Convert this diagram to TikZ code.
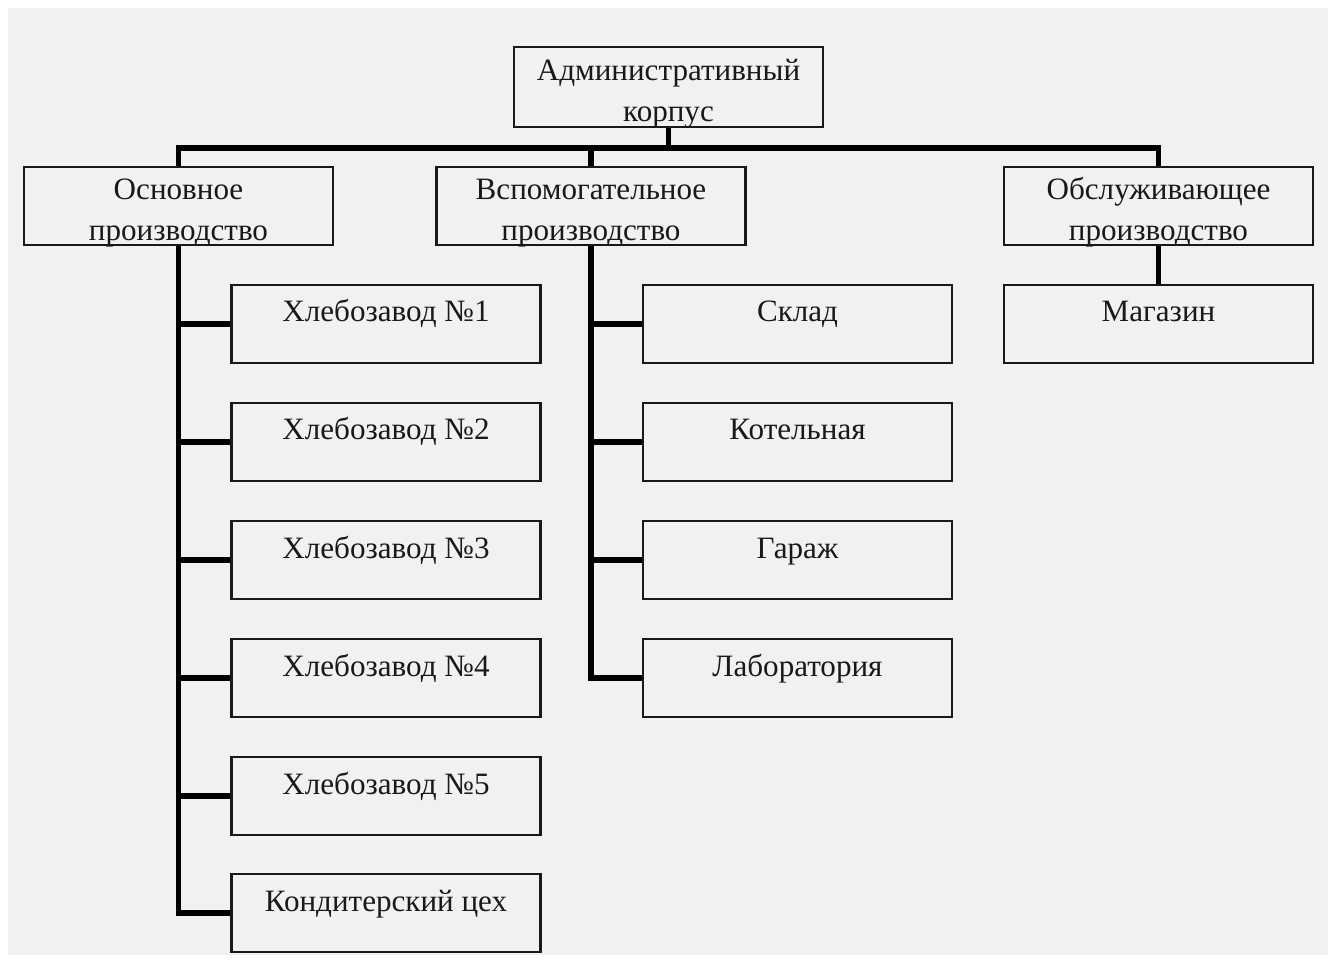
\documentclass[tikz,border=0pt]{standalone}
\usepackage{fontspec}
\setmainfont{Liberation Serif}
\definecolor{paper}{RGB}{241,241,244}
\definecolor{ink}{RGB}{25,25,25}
\begin{document}
\begin{tikzpicture}[x=0.02cm,y=-0.02cm,
		box/.style={draw=ink,line width=1.2pt,fill=paper,text=ink,inner sep=0pt,
			minimum width=6.18cm,minimum height=1.56cm,
			font=\fontsize{17.7}{23.5}\selectfont},
		onebox/.style={box,text height=0.74cm,text depth=0.82cm},
		twobox/.style={box,align=center,text height=1.48cm,text depth=0.08cm},
		conn/.style={draw=black,line width=2.9pt}]
			\fill[white] (0,0) rectangle (1335,962);
			\fill[paper] (8,8) rectangle (1328,955);
			\useasboundingbox (0,0) rectangle (1335,962);
			\node[twobox,minimum height=1.6cm,text height=1.5cm,text depth=0.1cm] (adm) at (668.5,87) {Административный\\корпус};
			\node[twobox] (osn) at (178.5,206) {Основное\\производство};
			\node[twobox] (vsp) at (591,206) {Вспомогательное\\производство};
			\node[twobox] (obs) at (1158.5,206) {Обслуживающее\\производство};
			\node[onebox] (hz1) at (386,324) {Хлебозавод №1};
			\node[onebox] (hz2) at (386,442) {Хлебозавод №2};
			\node[onebox] (hz3) at (386,560) {Хлебозавод №3};
			\node[onebox] (hz4) at (386,678) {Хлебозавод №4};
			\node[onebox] (hz5) at (386,796) {Хлебозавод №5};
			\node[onebox] (kond) at (386,913) {Кондитерский цех};
			\node[onebox] (sklad) at (797.5,324) {Склад};
			\node[onebox] (kotel) at (797.5,442) {Котельная};
			\node[onebox] (garazh) at (797.5,560) {Гараж};
			\node[onebox] (lab) at (797.5,678) {Лаборатория};
			\node[onebox] (mag) at (1158.5,324) {Магазин};
			\coordinate (bus) at (668.5,148);
			\draw[conn] (adm.south) -- (bus);
			\draw[conn] (osn.north) |- (bus) -| (obs.north);
			\draw[conn] (vsp.north) -- (vsp.north |- bus);
			\draw[conn] (osn.south) |- (kond.west);
			\foreach \i in {1,...,5}
				\draw[conn] (hz\i.west) -- (osn.south |- hz\i.west);
			\draw[conn] (vsp.south) |- (lab.west);
			\foreach \n in {sklad,kotel,garazh}
				\draw[conn] (\n.west) -- (vsp.south |- \n.west);
			\draw[conn] (obs.south) -- (mag.north);
		\end{tikzpicture}
\end{document}
